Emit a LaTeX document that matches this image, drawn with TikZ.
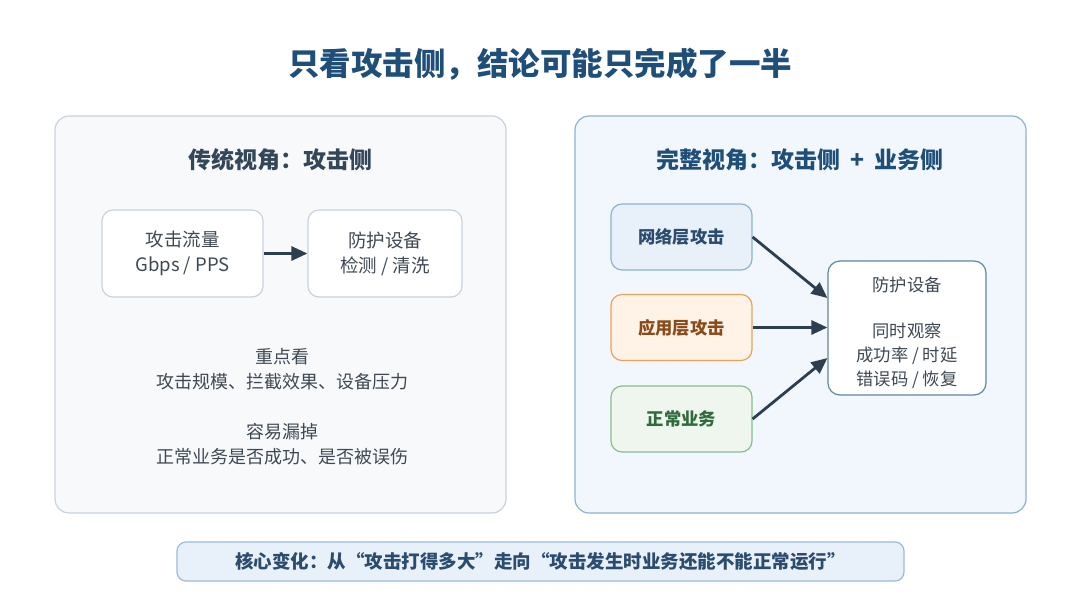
\documentclass[tikz,border=0pt]{standalone}
\usepackage{fontspec}
\setmainfont{Noto Sans CJK SC}
\usetikzlibrary{arrows.meta}

\definecolor{titleblue}{HTML}{1F4E79}
\definecolor{oldfill}{HTML}{F7F9FB}
\definecolor{oldline}{HTML}{C9D2DC}
\definecolor{oldhead}{HTML}{34465A}
\definecolor{bodygray}{HTML}{3F4954}
\definecolor{newfill}{HTML}{F1F7FC}
\definecolor{newline}{HTML}{8EB1D1}
\definecolor{arrowdark}{HTML}{2C3E50}
\definecolor{netfill}{HTML}{E8F1FA}
\definecolor{netline}{HTML}{8DB2D6}
\definecolor{nettext}{HTML}{2B4C6F}
\definecolor{appfill}{HTML}{FEF3E6}
\definecolor{appline}{HTML}{E8A25A}
\definecolor{apptext}{HTML}{8A4B1C}
\definecolor{bizfill}{HTML}{EEF6EE}
\definecolor{bizline}{HTML}{88BD8E}
\definecolor{biztext}{HTML}{2F6B3B}
\definecolor{guardline}{HTML}{5F86AA}
\definecolor{notefill}{HTML}{E8F1FA}
\definecolor{noteline}{HTML}{9EBAD6}

\tikzset{
  panel/.style={draw, line width=1.2pt, rounded corners=14pt, inner sep=0pt},
  card/.style={draw, line width=1.2pt, rounded corners=11pt, fill=white, inner sep=0pt,
    align=center, text=bodygray, font=\fontsize{18.5}{25}\selectfont},
  layer/.style={draw, line width=1.2pt, rounded corners=11pt, inner sep=0pt,
    minimum width=141pt, minimum height=66pt, font=\fontsize{17.3}{20}\selectfont\bfseries},
  flow/.style={-{Triangle[length=16pt,width=14pt]}, line width=2.8pt, draw=arrowdark},
  remark/.style={align=center, text=bodygray, font=\fontsize{18}{25}\selectfont}
}

\begin{document}
\begin{tikzpicture}[x=1pt,y=-1pt]
\useasboundingbox[fill=white] (0,0) rectangle (1080,608);

% title
\node[text=titleblue, font=\fontsize{31.5}{36}\selectfont\bfseries] (title) at (540,64)
  {只看攻击侧，结论可能只完成了一半};

% left panel
\node[panel, draw=oldline, fill=oldfill, minimum width=451pt, minimum height=397pt]
  (oldpanel) at (280.5,314.5) {};
\node[text=oldhead, font=\fontsize{23}{28}\selectfont\bfseries] (oldhead) at (280,160)
  {传统视角：攻击侧};
\node[card, draw=oldline, minimum width=161pt, minimum height=87pt] (traffic) at (182.5,253.5)
  {攻击流量\\Gbps / PPS};
\node[card, draw=oldline, minimum width=154pt, minimum height=87pt] (device) at (385,253.5)
  {防护设备\\检测 / 清洗};
\draw[flow] (traffic) -- (device);
\node[remark] (focus) at (282,369) {重点看\\攻击规模、拦截效果、设备压力};
\node[remark] (miss) at (282,444) {容易漏掉\\正常业务是否成功、是否被误伤};

% right panel
\node[panel, draw=newline, fill=newfill, minimum width=451pt, minimum height=397pt]
  (newpanel) at (800.5,314.5) {};
\node[text=titleblue, font=\fontsize{23}{28}\selectfont\bfseries] (newhead) at (800,160)
  {完整视角：攻击侧\hspace{0.45em}+\hspace{0.45em}业务侧};
\node[layer, draw=netline, fill=netfill, text=nettext] (net) at (681.5,237) {网络层攻击};
\node[layer, draw=appline, fill=appfill, text=apptext] (app) at (681.5,327.5) {应用层攻击};
\node[layer, draw=bizline, fill=bizfill, text=biztext] (biz) at (681.5,419) {正常业务};
\node[card, draw=guardline, minimum width=158pt, minimum height=134pt, rounded corners=12pt]
  (guard) at (907,328) {};
\node[align=center, text=bodygray, font=\fontsize{17.3}{24}\selectfont] (guardtext)
  at ([yshift=-4.5pt]guard.center) {防护设备\\[22pt]同时观察\\成功率 / 时延\\错误码 / 恢复};
\draw[flow] (net.east) -- ([yshift=30pt]guard.west);
\draw[flow] (app.east) -- (app.east -| guard.west);
\draw[flow] (biz.east) -- ([yshift=-30pt]guard.west);

% bottom note
\node[draw=noteline, fill=notefill, line width=1.2pt, rounded corners=9pt,
  minimum width=727pt, minimum height=39pt, text=nettext,
  font=\fontsize{18.5}{20}\selectfont\bfseries] (shift) at (540.5,561.5)
  {核心变化：从“攻击打得多大”走向“攻击发生时业务还能不能正常运行”};
\end{tikzpicture}
\end{document}
